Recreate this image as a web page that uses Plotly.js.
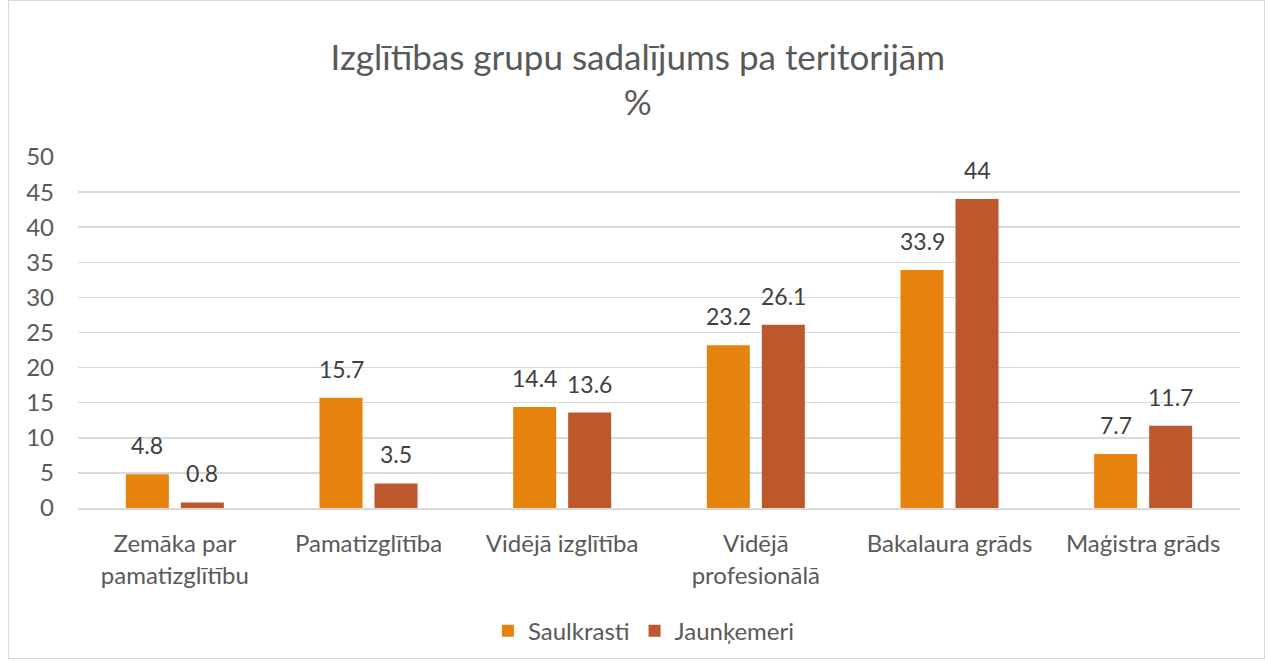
<!DOCTYPE html>
<html><head><meta charset="utf-8">
<script src="https://cdn.plot.ly/plotly-3.0.1.min.js"></script>
<style>html,body{margin:0;padding:0;background:#fff;}#wrap{position:absolute;left:8px;top:0;width:1257px;height:659px;border:1px solid #D9D9D9;box-sizing:border-box;}#chart{position:absolute;left:0;top:0;width:1268px;height:663px;}</style>
</head><body>
<div id="wrap"></div>
<div id="chart"></div>
<script>
const categories = ["Zemāka par<br>pamatizglītību", "Pamatizglītība", "Vidējā izglītība", "Vidējā<br>profesionālā", "Bakalaura grāds", "Maģistra grāds"];
const saulkrasti = [4.8, 15.7, 14.4, 23.2, 33.9, 7.7];
const jaunkemeri = [0.8, 3.5, 13.6, 26.1, 44, 11.7];
const yTicks = [0, 5, 10, 15, 20, 25, 30, 35, 40, 45, 50];

const font = {family: "Lato, Open Sans, sans-serif", color: "#595959"};
const mk = (name, vals, color) => ({
  type: "bar", name: name, x: categories, y: vals,
  marker: {color: color},
  hoverinfo: "x+y"
});
const data = [mk("Saulkrasti", saulkrasti, "#E6830F"), mk("Jaunķemeri", jaunkemeri, "#BD582C")];
const labelAnn = (vals, shift) => vals.map((v, i) => ({
  x: categories[i], y: v, xref: "x", yref: "y", text: String(v), showarrow: false,
  xanchor: "center", yanchor: "bottom", xshift: shift, yshift: 13,
  font: {size: 23, color: "#404040", family: font.family}
}));
const layout = {
  width: 1268, height: 663,
  paper_bgcolor: "rgba(0,0,0,0)", plot_bgcolor: "rgba(0,0,0,0)",
  margin: {l: 78, r: 28, t: 157, b: 155},
  font: font,
  title: {text: "Izglītības grupu sadalījums pa teritorijām<br>%", x: 0.503, xanchor: "center", y: 0.895, yanchor: "top", font: {size: 35, color: "#595959", family: font.family}},
  barmode: "group", bargap: 0.432, bargroupgap: 0.218,
  xaxis: {tickfont: {size: 24, color: "#595959"}, showline: true, linecolor: "#D9D9D9", linewidth: 1.5, ticks: "", ticklabelstandoff: 14, fixedrange: true, automargin: false},
  yaxis: {range: [0, 50], tickvals: yTicks, tickfont: {size: 24, color: "#595959"}, gridcolor: "#D9D9D9", gridwidth: 1.5, zeroline: false, ticks: "", ticklabelstandoff: 23, showline: false, automargin: false},
  legend: {orientation: "h", x: 0.487, xanchor: "center", yref: "container", y: 0.048, yanchor: "middle", font: {size: 24, color: "#595959"}, itemwidth: 20, traceorder: "normal"},
  annotations: labelAnn(saulkrasti, -27.5).concat(labelAnn(jaunkemeri, 27.5)),
  showlegend: true
};
Plotly.newPlot("chart", data, layout, {displayModeBar: false, staticPlot: true});
</script>
</body></html>
